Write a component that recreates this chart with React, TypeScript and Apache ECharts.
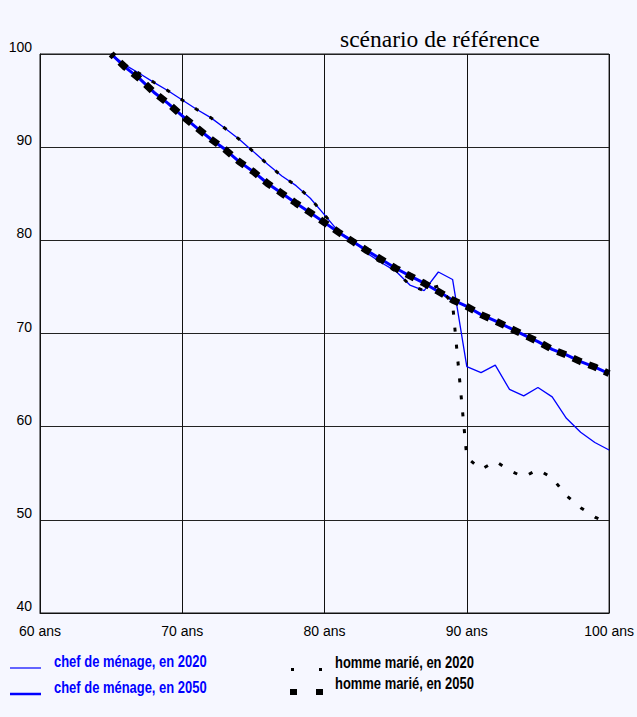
import React, { useEffect, useRef } from "react";
import * as echarts from "echarts";

const ages = [65, 66, 67, 68, 69, 70, 71, 72, 73, 74, 75, 76, 77, 78, 79, 80, 81, 82, 83, 84, 85, 86, 87, 88, 89, 90, 91, 92, 93, 94, 95, 96, 97, 98, 99, 100];

const chef2020 = [100, 98.8, 97.9, 96.96, 96.06, 95.06, 94.07, 93.17, 92.03, 90.85, 89.52, 88.16, 86.9, 85.87, 84.52, 82.73, 80.9, 80.0, 78.6, 77.6, 76.7, 75.2, 74.6, 76.6, 75.8, 66.45, 65.8, 66.6, 64.0, 63.3, 64.2, 63.2, 60.9, 59.4, 58.3, 57.5];

const homme2020 = [100, 98.8, 97.9, 96.96, 96.06, 95.06, 94.07, 93.17, 92.03, 90.85, 89.52, 88.16, 86.9, 85.87, 84.52, 82.73, 80.9, 80.0, 78.6, 77.6, 76.7, 75.2, 74.6, 75.1, 73.2, 56.7, 55.4, 56.3, 55.3, 54.6, 55.4, 54.5, 52.6, 51.3, 50.3, 49.6];

const chef2050 = [100, 98.57, 97.35, 95.9, 94.7, 93.35, 92.1, 90.88, 89.77, 88.45, 87.37, 86.1, 85.05, 83.98, 82.97, 81.9, 80.85, 79.86, 78.88, 77.95, 77.0, 76.18, 75.4, 74.5, 73.6, 72.9, 72.03, 71.35, 70.6, 69.85, 69.13, 68.3, 67.7, 66.98, 66.4, 65.7];

const homme2050 = [100, 98.57, 97.35, 95.9, 94.7, 93.35, 92.1, 90.88, 89.77, 88.45, 87.37, 86.1, 85.05, 83.98, 82.97, 81.9, 80.85, 79.86, 78.88, 77.95, 77.0, 76.18, 75.4, 74.5, 73.6, 72.9, 72.03, 71.35, 70.6, 69.85, 69.13, 68.3, 67.7, 66.98, 66.4, 65.7];

const legendLabels = [
  "chef de ménage, en 2020",
  "chef de ménage, en 2050",
  "homme marié, en 2020",
  "homme marié, en 2050",
];
const title = "scénario de référence";

const SANS = "'Liberation Sans', Arial, sans-serif";
const BG = "#f6f7ff";

const pair = (vals: number[]) => ages.map((a, i) => [a, vals[i]]);

const legendText = (text: string, x: number, y: number, fill: string) => ({
  type: "text",
  x,
  y,
  scaleX: 0.81,
  style: { text, fontFamily: SANS, fontWeight: "bold", fontSize: 16, fill, verticalAlign: "middle" },
});

export default function App() {
  const ref = useRef<HTMLDivElement>(null);
  useEffect(() => {
    document.body.style.margin = "0";
    document.body.style.background = BG;
    if (!ref.current) return;
    const chart = echarts.init(ref.current, null, { renderer: "svg" });
    chart.setOption({
      animation: false,
      backgroundColor: BG,
      grid: {
        left: 40,
        right: 24,
        top: 54,
        bottom: 104,
        show: true,
        borderColor: "#111",
        borderWidth: 1,
      },
      xAxis: {
        type: "value",
        min: 60,
        max: 100,
        interval: 10,
        axisLine: { show: true, lineStyle: { color: "#111", width: 1 } },
        axisTick: { show: false },
        splitLine: { show: true, lineStyle: { color: "#111", width: 1 } },
        axisLabel: {
          formatter: (v: number) => `${v} ans`,
          color: "#000",
          fontFamily: SANS,
          fontSize: 14,
          margin: 11,
          showMaxLabel: true,
          showMinLabel: true,
        },
      },
      yAxis: {
        type: "value",
        min: 40,
        max: 100,
        interval: 10,
        axisLine: { show: true, lineStyle: { color: "#111", width: 1 } },
        axisTick: { show: false },
        splitLine: { show: true, lineStyle: { color: "#222", width: 1 } },
        axisLabel: {
          color: "#000",
          fontFamily: SANS,
          fontSize: 14,
          margin: 8,
          verticalAlign: "bottom",
        },
      },
      series: [
        {
          name: legendLabels[0],
          type: "line",
          data: pair(chef2020),
          showSymbol: false,
          symbol: "none",
          lineStyle: { color: "#0000ff", width: 1.3 },
          z: 2,
        },
        {
          name: legendLabels[1],
          type: "line",
          data: pair(chef2050),
          showSymbol: false,
          symbol: "none",
          lineStyle: { color: "#0000ff", width: 3 },
          z: 2,
        },
        {
          name: legendLabels[2],
          type: "line",
          data: pair(homme2020),
          showSymbol: false,
          symbol: "none",
          lineStyle: { color: "#000", width: 3, type: [4, 13], dashOffset: 2 },
          z: 3,
        },
        {
          name: legendLabels[3],
          type: "line",
          data: pair(homme2050),
          showSymbol: false,
          symbol: "none",
          lineStyle: { color: "#000", width: 7, type: [9, 8], dashOffset: 4.5 },
          z: 3,
        },
      ],
      graphic: [
        {
          type: "text",
          left: 340,
          top: 27,
          style: { text: title, fontFamily: "'Liberation Serif', 'DejaVu Serif', serif", fontSize: 23.5, fill: "#000" },
        },
        { type: "line", shape: { x1: 10, y1: 668, x2: 41, y2: 668 }, style: { stroke: "#0000ff", lineWidth: 1.2 } },
        { type: "line", shape: { x1: 10, y1: 694, x2: 41, y2: 694 }, style: { stroke: "#0000ff", lineWidth: 2.5 } },
        legendText(legendLabels[0], 54, 662, "#0000ff"),
        legendText(legendLabels[1], 54, 688, "#0000ff"),
        { type: "rect", shape: { x: 291, y: 668, width: 3, height: 3 }, style: { fill: "#000" } },
        { type: "rect", shape: { x: 319, y: 668, width: 3, height: 3 }, style: { fill: "#000" } },
        { type: "rect", shape: { x: 290, y: 689, width: 7, height: 6 }, style: { fill: "#000" } },
        { type: "rect", shape: { x: 316, y: 689, width: 7, height: 6 }, style: { fill: "#000" } },
        legendText(legendLabels[2], 335, 663, "#000"),
        legendText(legendLabels[3], 335, 684, "#000"),
      ],
    });
    return () => chart.dispose();
  }, []);
  return <div ref={ref} style={{ width: 637, height: 717 }} />;
}
